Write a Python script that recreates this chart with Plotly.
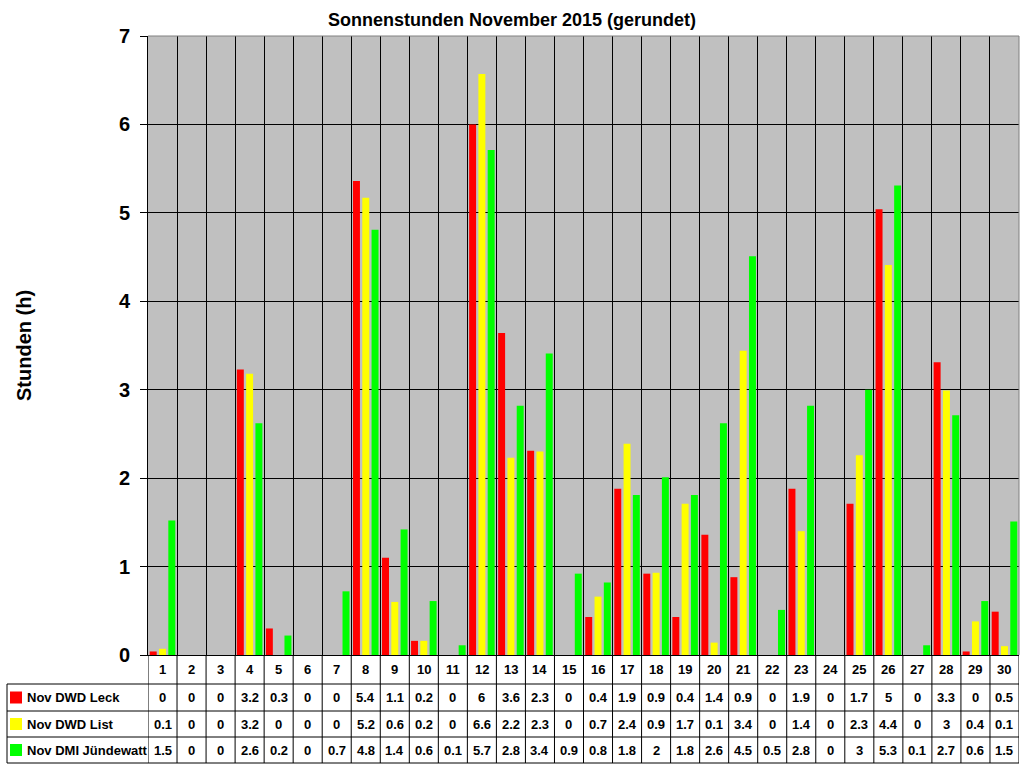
import plotly.graph_objects as go

# ---- data ----
days = [str(d) for d in range(1, 31)]
leck = [0.04, 0, 0, 3.23, 0.3, 0, 0, 5.36, 1.1, 0.16, 0, 6.0, 3.64, 2.31, 0,
        0.43, 1.88, 0.92, 0.43, 1.36, 0.88, 0, 1.88, 0, 1.71, 5.04, 0, 3.31, 0.04, 0.49]
list_ = [0.07, 0, 0, 3.18, 0, 0, 0, 5.17, 0.6, 0.16, 0, 6.57, 2.23, 2.3, 0,
         0.66, 2.39, 0.93, 1.71, 0.14, 3.44, 0, 1.4, 0, 2.26, 4.41, 0, 2.99, 0.38, 0.1]
juende = [1.52, 0, 0, 2.62, 0.22, 0, 0.72, 4.81, 1.42, 0.61, 0.11, 5.71, 2.82, 3.41, 0.92,
          0.82, 1.81, 2.01, 1.81, 2.62, 4.51, 0.51, 2.82, 0, 3.0, 5.31, 0.11, 2.71, 0.61, 1.51]
series_names = ["Nov DWD Leck", "Nov DWD List", "Nov DMI Jündewatt"]
series_values = [leck, list_, juende]
colors = ["#FF0000", "#FFFF00", "#00FF00"]
title = "Sonnenstunden November 2015 (gerundet)"
y_title = "Stunden (h)"

# ---- geometry ----
W, H = 1024, 768
L, R, T, B = 148, 5, 36, 113
PW, PH = W - L - R, H - T - B
FONT = "Arial, 'Liberation Sans', sans-serif"


def px(x):
    return (x - L) / PW


def py(y):
    return (H - B - y) / PH


def fmt(v):
    r = round(v, 1)
    return f"{r:g}"


fig = go.Figure()
for name, vals, c in zip(series_names, series_values, colors):
    fig.add_trace(go.Bar(x=days, y=vals, name=name, marker_color=c,
                         marker_line_width=0, showlegend=False))

shapes = []
annotations = []

shapes.append(dict(type="line", xref="paper", yref="paper", x0=0, x1=1, y0=1, y1=1,
                   line=dict(color="#808080", width=1)))
shapes.append(dict(type="line", xref="paper", yref="paper", x0=1, x1=1, y0=0, y1=1,
                   line=dict(color="#808080", width=1)))

row_lines = [684, 711, 737, 763]
row_centers = [697.5, 724, 750]
header_center = 669.5
table_left = 7

n = len(days)
for i in range(n + 1):
    shapes.append(dict(type="line", xref="x", yref="paper", x0=i - 0.5, x1=i - 0.5,
                       y0=0, y1=py(row_lines[-1]), line=dict(color="black", width=1)))
shapes.append(dict(type="line", xref="paper", yref="paper", x0=px(table_left), x1=px(table_left),
                   y0=py(row_lines[0]), y1=py(row_lines[-1]), line=dict(color="black", width=1)))
for yl in row_lines:
    shapes.append(dict(type="line", xref="paper", yref="paper", x0=px(table_left), x1=1,
                       y0=py(yl), y1=py(yl), line=dict(color="black", width=1)))

for i, d in enumerate(days):
    annotations.append(dict(x=i, xref="x", y=py(header_center), yref="paper", text=f"<b>{d}</b>",
                            showarrow=False, font=dict(family=FONT, size=13, color="black"),
                            xanchor="center", yanchor="middle"))

for r, (name, vals, c) in enumerate(zip(series_names, series_values, colors)):
    yc = row_centers[r]
    shapes.append(dict(type="rect", xref="paper", yref="paper", x0=px(10), x1=px(22),
                       y0=py(yc - 6), y1=py(yc + 6), fillcolor=c, line=dict(width=0)))
    annotations.append(dict(x=px(25), xref="paper", y=py(yc), yref="paper", text=f"<b>{name}</b>",
                            showarrow=False, font=dict(family=FONT, size=13, color="black"),
                            xanchor="left", yanchor="middle"))
    for i, v in enumerate(vals):
        annotations.append(dict(x=i, xref="x", y=py(yc), yref="paper", text=f"<b>{fmt(v)}</b>",
                                showarrow=False, font=dict(family=FONT, size=13, color="black"),
                                xanchor="center", yanchor="middle"))

annotations.append(dict(x=px(512), xref="paper", y=py(20), yref="paper", text=f"<b>{title}</b>",
                        showarrow=False, font=dict(family=FONT, size=18, color="black"),
                        xanchor="center", yanchor="middle"))
annotations.append(dict(x=px(24), xref="paper", y=py(345), yref="paper", text=f"<b>{y_title}</b>",
                        showarrow=False, textangle=-90, font=dict(family=FONT, size=20, color="black"),
                        xanchor="center", yanchor="middle"))

fig.update_layout(
    width=W, height=H,
    margin=dict(l=L, r=R, t=T, b=B, pad=0),
    paper_bgcolor="white", plot_bgcolor="#C0C0C0",
    barmode="group", bargap=0.04, bargroupgap=0.25,
    shapes=shapes, annotations=annotations,
    xaxis=dict(type="category", range=[-0.5, n - 0.5], showticklabels=False, ticks="",
               showgrid=True, gridcolor="black", gridwidth=1, tickson="boundaries",
               showline=True, linecolor="black", linewidth=1, zeroline=False),
    yaxis=dict(range=[0, 7], dtick=1, tick0=0, showgrid=True, gridcolor="black", gridwidth=1,
               ticks="outside", ticklen=7, tickcolor="black", tickwidth=1,
               tickfont=dict(family=FONT, size=20, color="black", weight="bold"),
               ticklabelstandoff=6,
               showline=True, linecolor="black", linewidth=1, zeroline=False),
    font=dict(family=FONT),
)

fig.write_html("out.html", config={"displayModeBar": False},
               post_script="document.body.style.margin='0';document.body.style.overflow='hidden';")
